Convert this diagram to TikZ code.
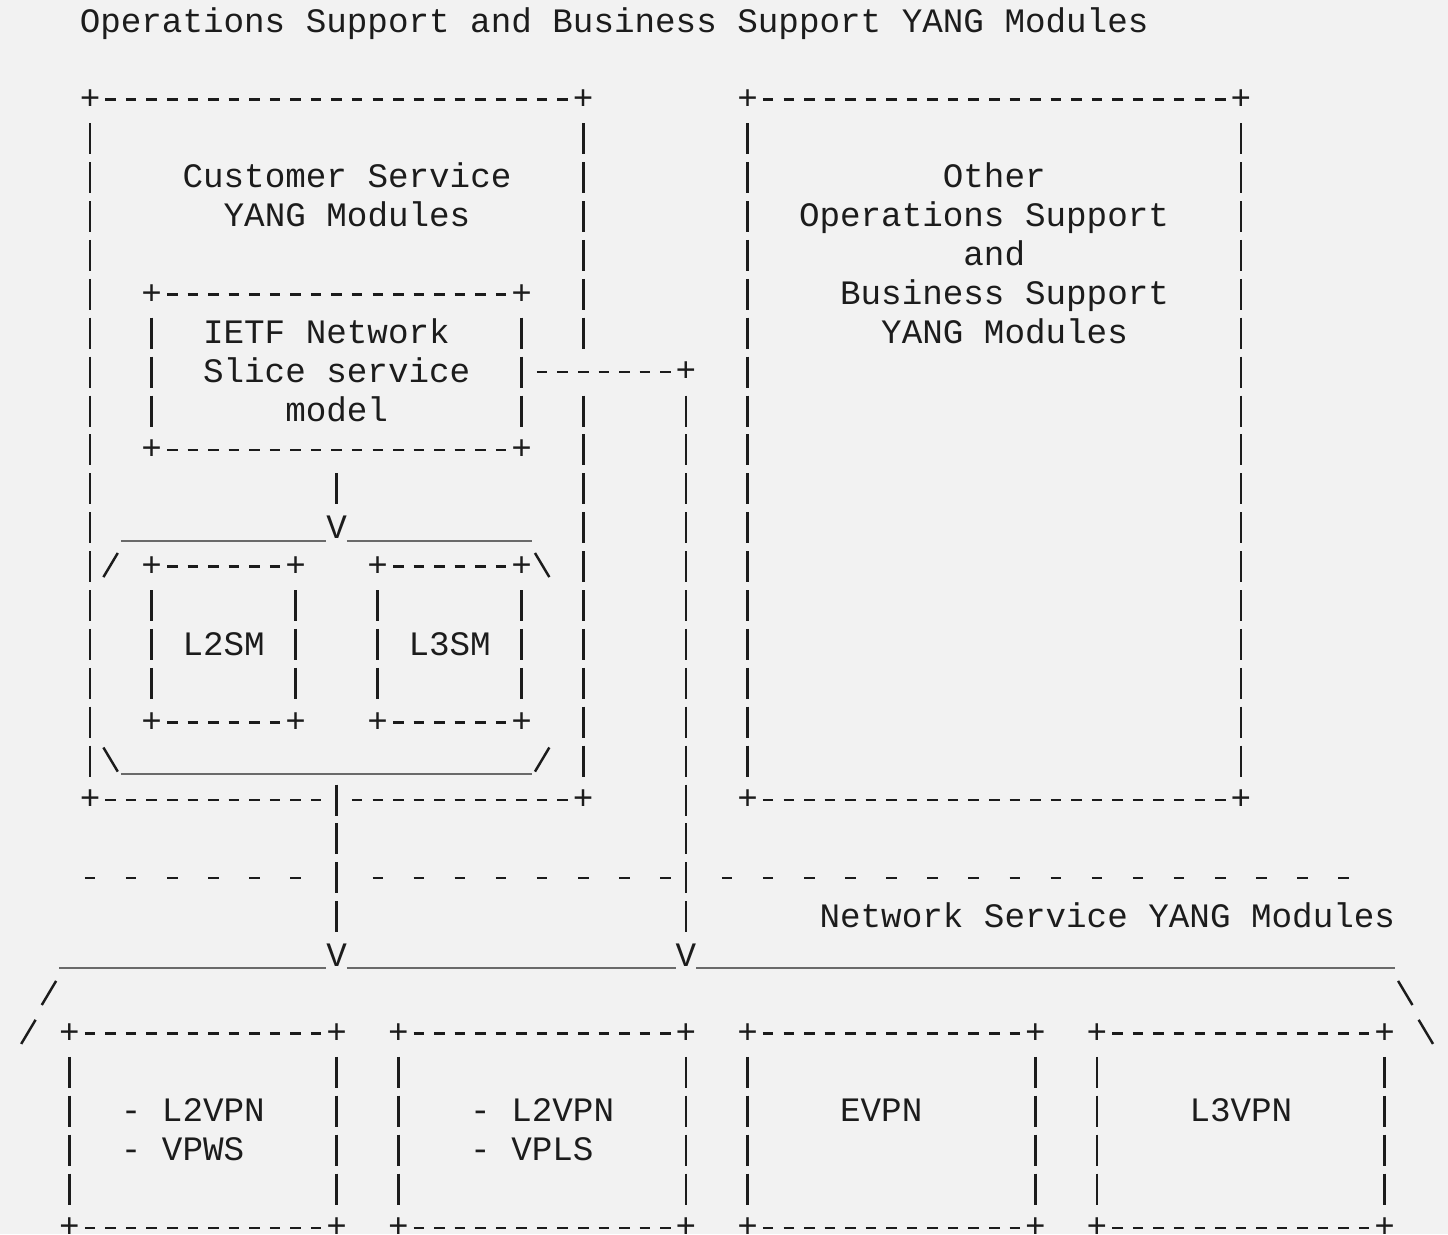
\documentclass[tikz,border=0pt]{standalone}
\usepackage{fontspec}
\setmonofont{Liberation Mono}
\definecolor{paper}{HTML}{F2F2F2}
\definecolor{ink}{HTML}{1C1C1C}
\definecolor{lidgray}{HTML}{6A6A6A}
\newlength\colw \setlength\colw{11.694pt}
\newlength\rowh \setlength\rowh{22.136pt}
% keep full-width spaces inside aligned nodes
\newcommand\monospaces{\spaceskip=0pt\xspaceskip=0pt\relax}

\begin{document}
\begin{tikzpicture}[x=\colw, y=-\rowh,
    ascii/.style={font=\ttfamily\fontsize{19.49pt}{22.136pt}\selectfont,
      text=ink, inner sep=0pt, outer sep=0pt},
    txt/.style={ascii, anchor=base west},
    frame/.style 2 args={ascii, minimum width=#1*\colw, minimum height=#2*\rowh},
    hrule/.style={draw=ink, line width=1.5pt,
      dash pattern=on 5.975pt off 5.719pt, shorten <=8.707pt, shorten >=8.707pt},
    vrule/.style={draw=ink, line width=1.5pt,
      dash pattern=on 17.641pt off 4.495pt, shorten <=13.316pt, shorten >=13.316pt},
    sepline/.style={draw=ink, line width=1.5pt, dash pattern=on 5.975pt off 17.413pt},
    lid/.style={draw=lidgray, line width=1.1pt},
    slant/.style={draw=ink, line width=1.4pt}]

  \fill[paper, use as bounding box] (-1.382,-0.5656) rectangle (69.08,31.157);

  \node[txt] (title) at (2.5,0.265) {Operations Support and Business Support YANG Modules};

  % upper layer
  \node[frame={24}{18}] (custbox) at (15,11) {};
  \node[frame={24}{18}] (otherbox) at (47,11) {};
  \node[frame={18}{4}] (nsm) at (15,9) {};
  \node[frame={7}{4}] (l2sm) at (9.5,16) {L2SM};
  \node[frame={7}{4}] (l3sm) at (20.5,16) {L3SM};

  \node[txt, text width=187.2pt, align=center] (custtext) at (7.5,4.265)
    {\monospaces Customer Service\\YANG Modules};
  \node[txt, text width=240pt, align=left] (othertext) at (37.5,4.265)
    {\monospaces\hspace*{7\colw}Other\\Operations Support\\\hspace*{8\colw}and\\
     \hspace*{2\colw}Business Support\\\hspace*{4\colw}YANG Modules};
  \node[txt, text width=200pt, align=left] (nsmtext) at (8.5,8.265)
    {\monospaces IETF Network\\Slice service\\\hspace*{4\colw}model};

  % lower layer
  \node[frame={13}{5}] (vpws) at (8.5,28.5) {};
  \node[frame={14}{5}] (vpls) at (25,28.5) {};
  \node[frame={14}{5}] (evpn) at (42,28.5) {};
  \node[frame={14}{5}] (l3vpn) at (59,28.5) {};

  \node[txt] (nettext) at (38.5,23.265) {Network Service YANG Modules};
  \node[txt, text width=120pt, align=left] (vpwstext) at (4.5,28.265)
    {\monospaces - L2VPN\\- VPWS};
  \node[txt, text width=120pt, align=left] (vplstext) at (21.5,28.265)
    {\monospaces - L2VPN\\- VPLS};
  \node[txt] (evpntext) at (39.5,28.265) {EVPN};
  \node[txt] (l3vpntext) at (56.5,28.265) {L3VPN};

  % arrow heads
  \node[ascii] (vsm) at (15,13) {V};
  \node[ascii] (vnsA) at (15,24) {V};
  \node[ascii] (vnsB) at (32,24) {V};
  \coordinate (bend) at (32,9);

  % box edges
  \foreach \bx in {otherbox,nsm,l2sm,l3sm,vpws,vpls,evpn,l3vpn}{
    \draw[hrule] (\bx.north west) -- (\bx.north east);
    \draw[hrule] (\bx.south west) -- (\bx.south east);
    \draw[vrule] (\bx.north west) -- (\bx.south west);
    \draw[vrule] (\bx.north east) -- (\bx.south east);
  }
  % customer box is cut where the links leave it
  \draw[hrule] (custbox.north west) -- (custbox.north east);
  \draw[hrule] (custbox.south west) -- (custbox.south);
  \draw[hrule] (custbox.south) -- (custbox.south east);
  \draw[vrule] (custbox.north west) -- (custbox.south west);
  \draw[vrule] (custbox.north east) -- (custbox.north east |- bend);
  \draw[vrule] (custbox.north east |- bend) -- (custbox.south east);

  \foreach \bx in {custbox,otherbox,nsm,l2sm,l3sm,vpws,vpls,evpn,l3vpn}
    \foreach \k in {north west,north east,south west,south east}
      \node[ascii] at (\bx.\k) {+};
  \node[ascii] at (bend) {+};

  % links
  \draw[vrule] (nsm.south) -- (vsm.center);
  \draw[vrule, shorten <=-8.82pt] (custbox.south) -- (vnsA.center);
  \draw[hrule] (nsm.east) -- (bend);
  \draw[vrule] (bend) -- (vnsB.center);

  % L2SM/L3SM group outline
  \draw[lid] (4.5,13.33) -- (14.5,13.33) (15.5,13.33) -- (24.5,13.33);
  \draw[lid] (4.5,19.33) -- (24.5,19.33);
  % network service group outline
  \draw[lid] (1.5,24.33) -- (14.5,24.33) (15.5,24.33) -- (31.5,24.33)
    (32.5,24.33) -- (66.5,24.33);
  \foreach \cx/\ry in {4/14, 25/19, 1/25, 0/26}
    \draw[slant] (\cx-0.35,\ry+0.27) -- (\cx+0.35,\ry-0.35);
  \foreach \cx/\ry in {25/14, 4/19, 67/25, 68/26}
    \draw[slant] (\cx-0.35,\ry-0.35) -- (\cx+0.35,\ry+0.27);

  % layer separator
  \foreach \a/\b in {3/13, 17/31, 34/64}
    \draw[sepline] (\a-0.2555,22) -- (\b+0.2555,22);
\end{tikzpicture}
\end{document}
